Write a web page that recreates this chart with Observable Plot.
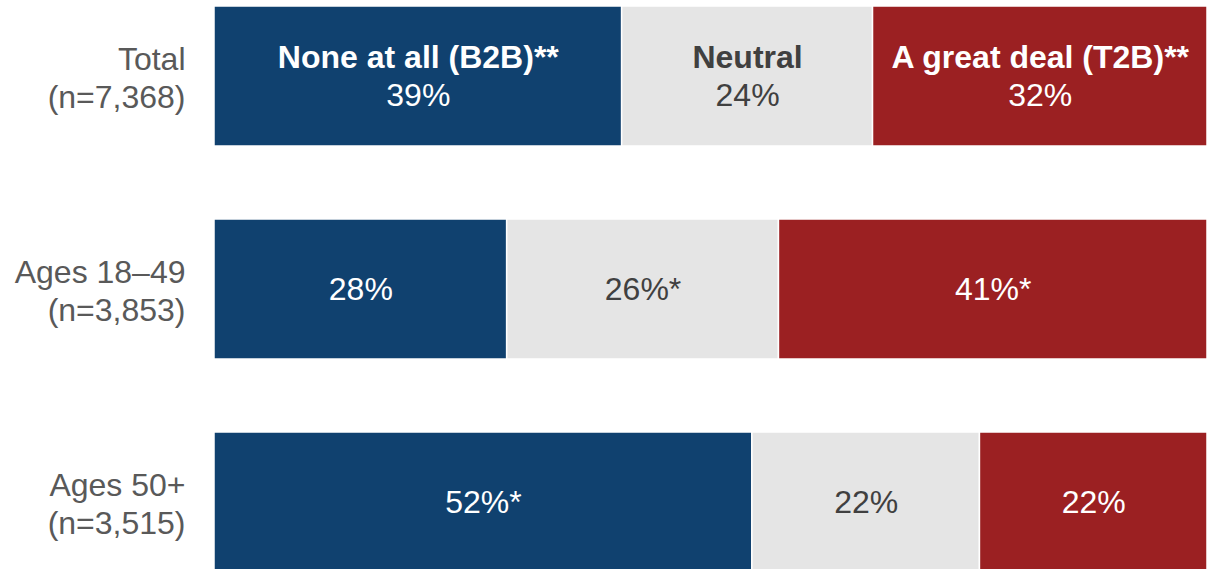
<!DOCTYPE html>
<html><head><meta charset="utf-8">
<script src="https://cdn.jsdelivr.net/npm/d3@7"></script>
<script src="https://cdn.jsdelivr.net/npm/@observablehq/plot@0.6"></script>
<style>html,body{margin:0;padding:0;background:#fff;overflow:hidden}</style>
</head><body><div id="chart"></div>
<script>
const groups = ["Total\n(n=7,368)", "Ages 18–49\n(n=3,853)", "Ages 50+\n(n=3,515)"];
const categories = ["None at all (B2B)**", "Neutral", "A great deal (T2B)**"];
const values = [[39, 24, 32], [28, 26, 41], [52, 22, 22]];
const valueLabels = [["39%", "24%", "32%"], ["28%", "26%*", "41%*"], ["52%*", "22%", "22%"]];
const colors = ["#10416F", "#E5E5E5", "#9B2022"];
const textColors = ["#FFFFFF", "#404040", "#FFFFFF"];

const data = [];
groups.forEach((g, gi) => categories.forEach((c, ci) => data.push({
  group: g, gi, cat: c, ci, value: values[gi][ci], label: valueLabels[gi][ci], tcolor: textColors[ci]
})));

const stackOpts = {x: "value", y: "group", z: "cat", offset: "normalize", order: null};
const font = "'Liberation Sans', Arial, sans-serif";

const chart = Plot.plot({
  width: 1207,
  height: 572,
  marginLeft: 214,
  marginRight: 0,
  marginTop: 6,
  marginBottom: 0,
  style: {fontFamily: font, background: "#fff"},
  x: {axis: null, domain: [0, 1]},
  y: {domain: groups, axis: null, paddingInner: 73 / 213, paddingOuter: 0},
  color: {domain: categories, range: colors},
  marks: [
    Plot.barX(data, Plot.stackX({...stackOpts, fill: "cat", stroke: "#fff", strokeWidth: 1.5})),
    Plot.text(groups, {x: 0, y: d => d, text: d => d, textAnchor: "end", dx: -29, fontSize: 32, lineHeight: 1.19, fill: "#595959", fontFamily: font}),
    Plot.text(data, Plot.stackX({...stackOpts, filter: d => d.gi === 0, text: "cat", fill: "tcolor", fontSize: 32, fontWeight: "bold", dy: -19, fontFamily: font})),
    Plot.text(data, Plot.stackX({...stackOpts, filter: d => d.gi === 0, text: "label", fill: "tcolor", fontSize: 32, dy: 19, fontFamily: font})),
    Plot.text(data, Plot.stackX({...stackOpts, filter: d => d.gi !== 0, text: "label", fill: "tcolor", fontSize: 32, fontFamily: font}))
  ]
});
document.getElementById("chart").append(chart);
</script>
</body></html>
